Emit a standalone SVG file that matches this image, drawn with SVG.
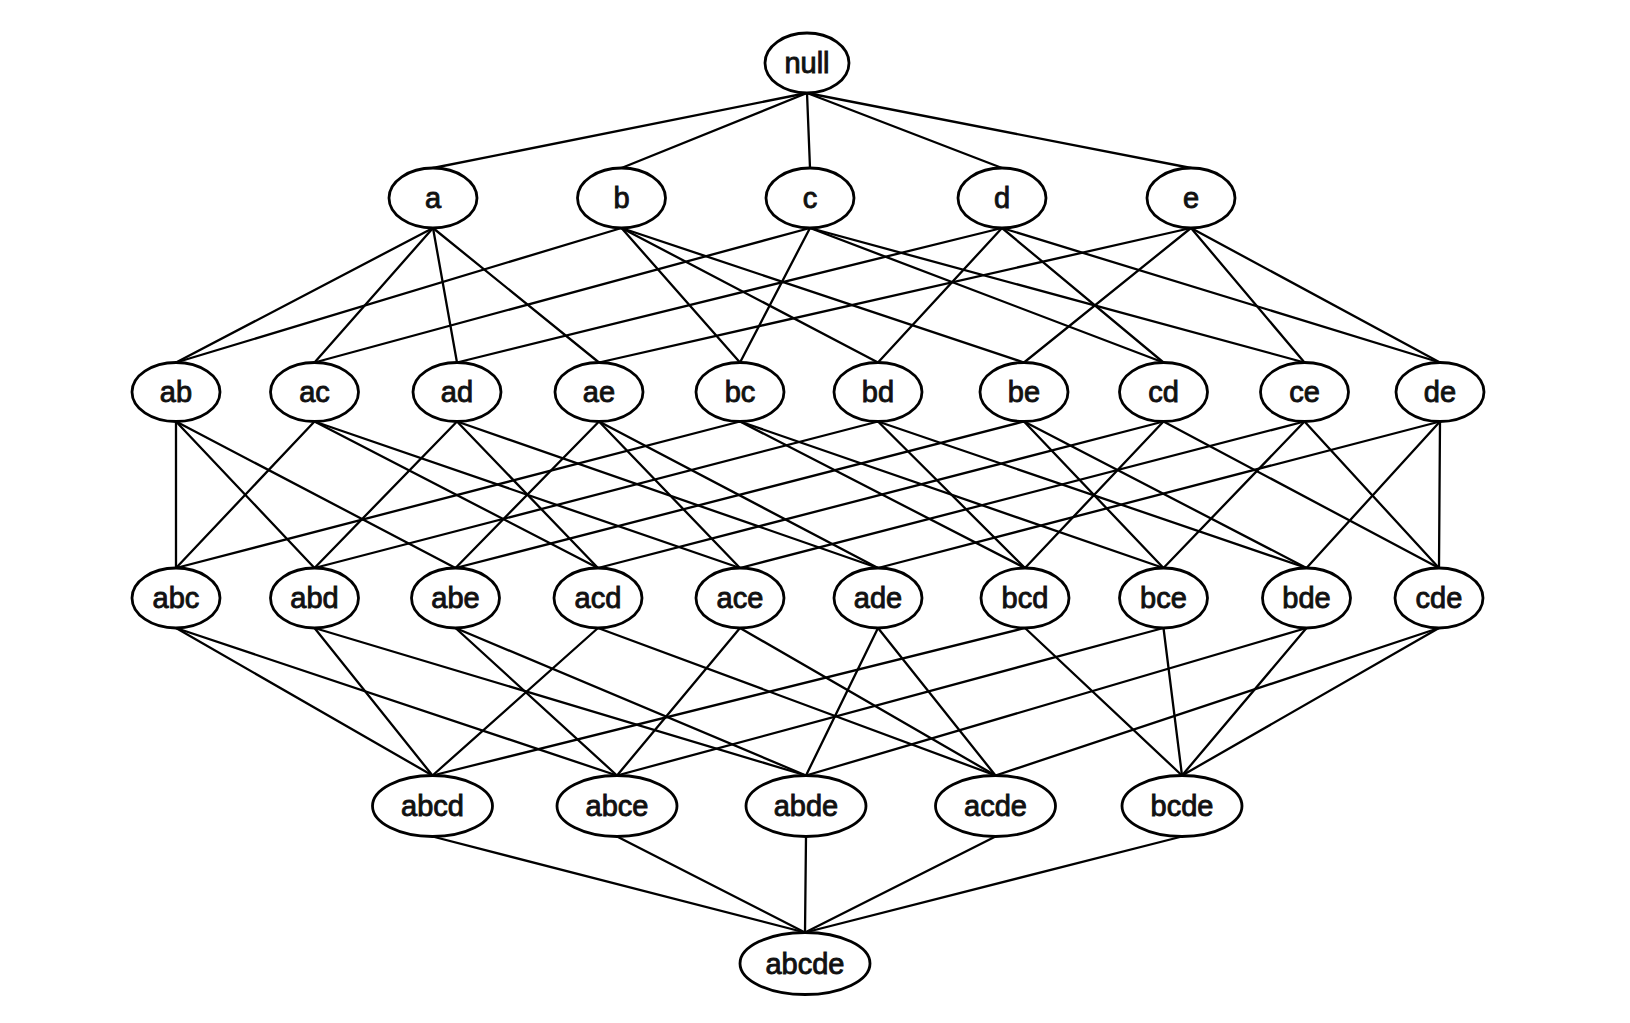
<svg xmlns="http://www.w3.org/2000/svg" width="1630" height="1023" viewBox="0 0 1630 1023">
<style>
.e{stroke:#000;stroke-width:2.3;fill:none;stroke-linecap:round}
.n ellipse{fill:#fff;stroke:#000;stroke-width:2.8}
.n text{font-family:"Liberation Sans",Arial,sans-serif;font-size:29px;fill:#111;text-anchor:middle;stroke:#111;stroke-width:0.9}
</style>
<rect width="1630" height="1023" fill="#fff"/>
<g id="connectors" class="e">
<line x1="807" y1="93" x2="433" y2="168"/>
<line x1="807" y1="93" x2="621.5" y2="168"/>
<line x1="807" y1="93" x2="810" y2="168"/>
<line x1="807" y1="93" x2="1002" y2="168"/>
<line x1="807" y1="93" x2="1191" y2="168"/>

<line x1="433" y1="228" x2="176" y2="362.5"/>
<line x1="433" y1="228" x2="314.5" y2="362.5"/>
<line x1="433" y1="228" x2="457" y2="362.5"/>
<line x1="433" y1="228" x2="599" y2="362.5"/>
<line x1="621.5" y1="228" x2="176" y2="362.5"/>
<line x1="621.5" y1="228" x2="740" y2="362.5"/>
<line x1="621.5" y1="228" x2="878" y2="362.5"/>
<line x1="621.5" y1="228" x2="1024" y2="362.5"/>
<line x1="810" y1="228" x2="314.5" y2="362.5"/>
<line x1="810" y1="228" x2="740" y2="362.5"/>
<line x1="810" y1="228" x2="1163.5" y2="362.5"/>
<line x1="810" y1="228" x2="1304.5" y2="362.5"/>
<line x1="1002" y1="228" x2="457" y2="362.5"/>
<line x1="1002" y1="228" x2="878" y2="362.5"/>
<line x1="1002" y1="228" x2="1163.5" y2="362.5"/>
<line x1="1002" y1="228" x2="1440" y2="362.5"/>
<line x1="1191" y1="228" x2="599" y2="362.5"/>
<line x1="1191" y1="228" x2="1024" y2="362.5"/>
<line x1="1191" y1="228" x2="1304.5" y2="362.5"/>
<line x1="1191" y1="228" x2="1440" y2="362.5"/>

<line x1="176" y1="421.5" x2="176" y2="568"/>
<line x1="176" y1="421.5" x2="314.5" y2="568"/>
<line x1="176" y1="421.5" x2="455.5" y2="568"/>
<line x1="314.5" y1="421.5" x2="176" y2="568"/>
<line x1="314.5" y1="421.5" x2="598" y2="568"/>
<line x1="314.5" y1="421.5" x2="740" y2="568"/>
<line x1="457" y1="421.5" x2="314.5" y2="568"/>
<line x1="457" y1="421.5" x2="598" y2="568"/>
<line x1="457" y1="421.5" x2="878" y2="568"/>
<line x1="599" y1="421.5" x2="455.5" y2="568"/>
<line x1="599" y1="421.5" x2="740" y2="568"/>
<line x1="599" y1="421.5" x2="878" y2="568"/>
<line x1="740" y1="421.5" x2="176" y2="568"/>
<line x1="740" y1="421.5" x2="1025" y2="568"/>
<line x1="740" y1="421.5" x2="1163.5" y2="568"/>
<line x1="878" y1="421.5" x2="314.5" y2="568"/>
<line x1="878" y1="421.5" x2="1025" y2="568"/>
<line x1="878" y1="421.5" x2="1306.5" y2="568"/>
<line x1="1024" y1="421.5" x2="455.5" y2="568"/>
<line x1="1024" y1="421.5" x2="1163.5" y2="568"/>
<line x1="1024" y1="421.5" x2="1306.5" y2="568"/>
<line x1="1163.5" y1="421.5" x2="598" y2="568"/>
<line x1="1163.5" y1="421.5" x2="1025" y2="568"/>
<line x1="1163.5" y1="421.5" x2="1439" y2="568"/>
<line x1="1304.5" y1="421.5" x2="740" y2="568"/>
<line x1="1304.5" y1="421.5" x2="1163.5" y2="568"/>
<line x1="1304.5" y1="421.5" x2="1439" y2="568"/>
<line x1="1440" y1="421.5" x2="878" y2="568"/>
<line x1="1440" y1="421.5" x2="1306.5" y2="568"/>
<line x1="1440" y1="421.5" x2="1439" y2="568"/>

<line x1="176" y1="628" x2="432.5" y2="775.5"/>
<line x1="176" y1="628" x2="617" y2="775.5"/>
<line x1="314.5" y1="628" x2="432.5" y2="775.5"/>
<line x1="314.5" y1="628" x2="806" y2="775.5"/>
<line x1="455.5" y1="628" x2="617" y2="775.5"/>
<line x1="455.5" y1="628" x2="806" y2="775.5"/>
<line x1="598" y1="628" x2="432.5" y2="775.5"/>
<line x1="598" y1="628" x2="995.5" y2="775.5"/>
<line x1="740" y1="628" x2="617" y2="775.5"/>
<line x1="740" y1="628" x2="995.5" y2="775.5"/>
<line x1="878" y1="628" x2="806" y2="775.5"/>
<line x1="878" y1="628" x2="995.5" y2="775.5"/>
<line x1="1025" y1="628" x2="432.5" y2="775.5"/>
<line x1="1025" y1="628" x2="1182" y2="775.5"/>
<line x1="1163.5" y1="628" x2="617" y2="775.5"/>
<line x1="1163.5" y1="628" x2="1182" y2="775.5"/>
<line x1="1306.5" y1="628" x2="806" y2="775.5"/>
<line x1="1306.5" y1="628" x2="1182" y2="775.5"/>
<line x1="1439" y1="628" x2="995.5" y2="775.5"/>
<line x1="1439" y1="628" x2="1182" y2="775.5"/>

<line x1="432.5" y1="836.5" x2="805" y2="932.5"/>
<line x1="617" y1="836.5" x2="805" y2="932.5"/>
<line x1="806" y1="836.5" x2="805" y2="932.5"/>
<line x1="995.5" y1="836.5" x2="805" y2="932.5"/>
<line x1="1182" y1="836.5" x2="805" y2="932.5"/>
</g>

<g id="null" class="n"><ellipse cx="807" cy="63" rx="42" ry="30"/><text x="807" y="73">null</text></g>

<g id="a" class="n"><ellipse cx="433" cy="198" rx="44" ry="30"/><text x="433" y="208">a</text></g>
<g id="b" class="n"><ellipse cx="621.5" cy="198" rx="44" ry="30"/><text x="621.5" y="208">b</text></g>
<g id="c" class="n"><ellipse cx="810" cy="198" rx="44" ry="30"/><text x="810" y="208">c</text></g>
<g id="d" class="n"><ellipse cx="1002" cy="198" rx="44" ry="30"/><text x="1002" y="208">d</text></g>
<g id="e" class="n"><ellipse cx="1191" cy="198" rx="44" ry="30"/><text x="1191" y="208">e</text></g>

<g id="ab" class="n"><ellipse cx="176" cy="392" rx="44" ry="29.5"/><text x="176" y="402">ab</text></g>
<g id="ac" class="n"><ellipse cx="314.5" cy="392" rx="44" ry="29.5"/><text x="314.5" y="402">ac</text></g>
<g id="ad" class="n"><ellipse cx="457" cy="392" rx="44" ry="29.5"/><text x="457" y="402">ad</text></g>
<g id="ae" class="n"><ellipse cx="599" cy="392" rx="44" ry="29.5"/><text x="599" y="402">ae</text></g>
<g id="bc" class="n"><ellipse cx="740" cy="392" rx="44" ry="29.5"/><text x="740" y="402">bc</text></g>
<g id="bd" class="n"><ellipse cx="878" cy="392" rx="44" ry="29.5"/><text x="878" y="402">bd</text></g>
<g id="be" class="n"><ellipse cx="1024" cy="392" rx="44" ry="29.5"/><text x="1024" y="402">be</text></g>
<g id="cd" class="n"><ellipse cx="1163.5" cy="392" rx="44" ry="29.5"/><text x="1163.5" y="402">cd</text></g>
<g id="ce" class="n"><ellipse cx="1304.5" cy="392" rx="44" ry="29.5"/><text x="1304.5" y="402">ce</text></g>
<g id="de" class="n"><ellipse cx="1440" cy="392" rx="44" ry="29.5"/><text x="1440" y="402">de</text></g>

<g id="abc" class="n"><ellipse cx="176" cy="598" rx="44" ry="30"/><text x="176" y="608">abc</text></g>
<g id="abd" class="n"><ellipse cx="314.5" cy="598" rx="44" ry="30"/><text x="314.5" y="608">abd</text></g>
<g id="abe" class="n"><ellipse cx="455.5" cy="598" rx="44" ry="30"/><text x="455.5" y="608">abe</text></g>
<g id="acd" class="n"><ellipse cx="598" cy="598" rx="44" ry="30"/><text x="598" y="608">acd</text></g>
<g id="ace" class="n"><ellipse cx="740" cy="598" rx="44" ry="30"/><text x="740" y="608">ace</text></g>
<g id="ade" class="n"><ellipse cx="878" cy="598" rx="44" ry="30"/><text x="878" y="608">ade</text></g>
<g id="bcd" class="n"><ellipse cx="1025" cy="598" rx="44" ry="30"/><text x="1025" y="608">bcd</text></g>
<g id="bce" class="n"><ellipse cx="1163.5" cy="598" rx="44" ry="30"/><text x="1163.5" y="608">bce</text></g>
<g id="bde" class="n"><ellipse cx="1306.5" cy="598" rx="44" ry="30"/><text x="1306.5" y="608">bde</text></g>
<g id="cde" class="n"><ellipse cx="1439" cy="598" rx="44" ry="30"/><text x="1439" y="608">cde</text></g>

<g id="abcd" class="n"><ellipse cx="432.5" cy="806" rx="60" ry="30.5"/><text x="432.5" y="816">abcd</text></g>
<g id="abce" class="n"><ellipse cx="617" cy="806" rx="60" ry="30.5"/><text x="617" y="816">abce</text></g>
<g id="abde" class="n"><ellipse cx="806" cy="806" rx="60" ry="30.5"/><text x="806" y="816">abde</text></g>
<g id="acde" class="n"><ellipse cx="995.5" cy="806" rx="60" ry="30.5"/><text x="995.5" y="816">acde</text></g>
<g id="bcde" class="n"><ellipse cx="1182" cy="806" rx="60" ry="30.5"/><text x="1182" y="816">bcde</text></g>

<g id="abcde" class="n"><ellipse cx="805" cy="963.5" rx="65" ry="31"/><text x="805" y="973.5">abcde</text></g>
</svg>
